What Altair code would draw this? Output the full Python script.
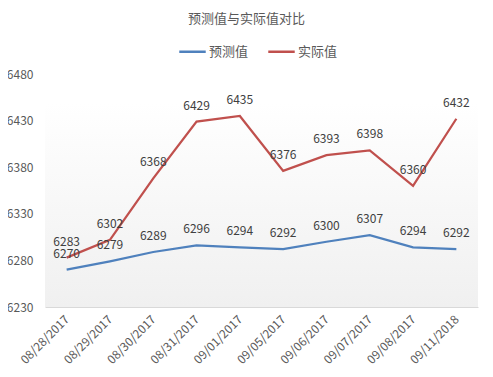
import altair as alt
import pandas as pd

dates = ["08/28/2017", "08/29/2017", "08/30/2017", "08/31/2017", "09/01/2017",
         "09/05/2017", "09/06/2017", "09/07/2017", "09/08/2017", "09/11/2018"]
predicted = [6270, 6279, 6289, 6296, 6294, 6292, 6300, 6307, 6294, 6292]
actual = [6283, 6302, 6368, 6429, 6435, 6376, 6393, 6398, 6360, 6432]
series_names = ["预测值", "实际值"]
series_colors = ["#4f81bd", "#c0504d"]
y_ticks = [6230, 6280, 6330, 6380, 6430, 6480]

rows = []
for d, p, a in zip(dates, predicted, actual):
    rows.append({"date": d, "series": series_names[0], "value": p})
    rows.append({"date": d, "series": series_names[1], "value": a})
df = pd.DataFrame(rows)

W, H = 433, 233
FONT = "Noto Sans CJK SC"

x_enc = alt.X("date:N", sort=dates, scale=alt.Scale(type="point", padding=0.5),
              axis=alt.Axis(title=None, labelAngle=-45, labelAlign="right", labelBaseline="middle",
                            labelPadding=10, labelFontSize=12, labelColor="#595959", labelFont=FONT,
                            domainColor="#d9d9d9", domainWidth=1, ticks=False, grid=False))
y_enc = alt.Y("value:Q", scale=alt.Scale(domain=[6230, 6480], nice=False, zero=False),
              axis=alt.Axis(title=None, values=y_ticks, format="d", labelFontSize=12,
                            labelColor="#595959", labelFont=FONT, labelPadding=12,
                            domain=False, ticks=False, grid=False))

bg = alt.Chart(pd.DataFrame({"a": [0]})).mark_rect(
    color=alt.Gradient(gradient="linear", x1=0, x2=0, y1=0, y2=1,
                       stops=[alt.GradientStop(color="#ffffff", offset=0),
                              alt.GradientStop(color="#f0f0f0", offset=1)])
).encode(x=alt.value(0), x2=alt.value(W), y=alt.datum(6449), y2=alt.datum(6230))

color_enc = alt.Color("series:N", scale=alt.Scale(domain=series_names, range=series_colors),
                      legend=alt.Legend(title=None, orient="none", legendX=133, legendY=-37,
                                        direction="horizontal", symbolType="stroke",
                                        symbolStrokeWidth=2.5, symbolSize=700,
                                        labelFontSize=13, labelColor="#595959", labelFont=FONT,
                                        columnPadding=14, labelOffset=2))

lines = alt.Chart(df).mark_line(strokeWidth=2.25).encode(x=x_enc, y=y_enc, color=color_enc)

labels = alt.Chart(df).mark_text(fontSize=12, color="#404040", baseline="middle", dy=-16,
                                 font=FONT).encode(
    x=alt.X("date:N", sort=dates), y="value:Q", text="value:Q")

chart = alt.layer(bg, lines, labels).properties(
    width=W, height=H, background="white",
    title=alt.TitleParams("预测值与实际值对比", fontSize=13, fontWeight="normal", color="#595959",
                          font=FONT, anchor="middle", dx=-15, offset=11),
    autosize=alt.AutoSizeParams(type="none"),
    padding={"left": 37, "top": 66, "right": 7, "bottom": 62},
).configure_view(stroke=None)

chart.save("out.html", embed_options={"renderer": "svg", "actions": False})
